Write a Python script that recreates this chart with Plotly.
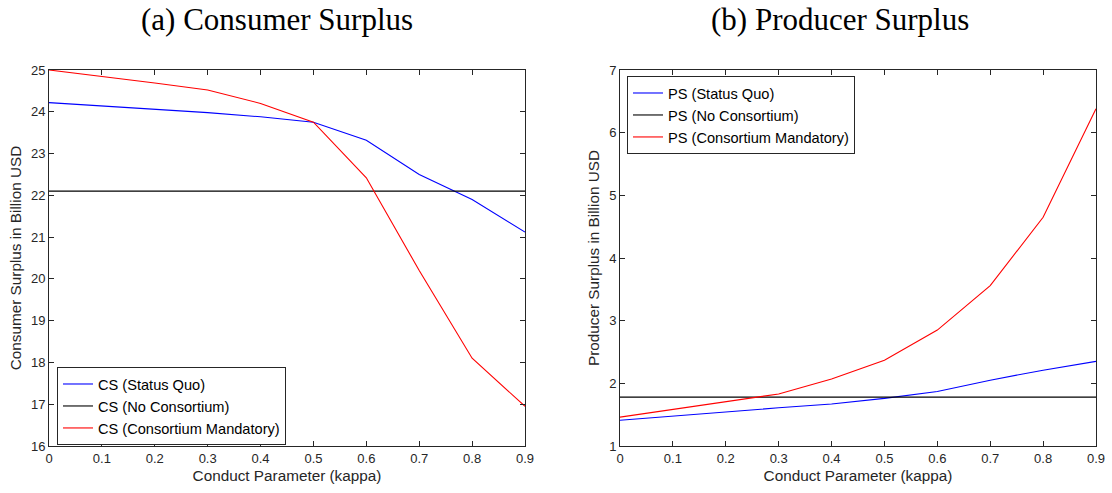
import plotly.graph_objects as go

kappa = [0, 0.1, 0.2, 0.3, 0.4, 0.5, 0.6, 0.7, 0.8, 0.9]

cs_status_quo = [24.22, 24.14, 24.06, 23.98, 23.88, 23.75, 23.32, 22.50, 21.90, 21.12]
cs_no_consortium = [22.10] * 10
cs_mandatory = [25.00, 24.85, 24.69, 24.52, 24.20, 23.75, 22.42, 20.20, 18.10, 16.95]

ps_status_quo = [1.41, 1.48, 1.55, 1.61, 1.67, 1.76, 1.87, 2.05, 2.21, 2.35]
ps_no_consortium = [1.78] * 10
ps_mandatory = [1.46, 1.58, 1.70, 1.83, 2.07, 2.37, 2.85, 3.56, 4.65, 6.38]

xticks = [0, 0.1, 0.2, 0.3, 0.4, 0.5, 0.6, 0.7, 0.8, 0.9]
cs_yticks = [16, 17, 18, 19, 20, 21, 22, 23, 24, 25]
ps_yticks = [1, 2, 3, 4, 5, 6, 7]

BLUE, BLACK, RED = "#0000ff", "#000000", "#ff0000"
AX = "#262626"
SANS = "Liberation Sans, Arial, sans-serif"
SERIF = "Liberation Serif, DejaVu Serif, serif"

W, H = 1112, 493

def px(v):
    return v / W

def py(v):
    return 1 - v / H

fig = go.Figure()

def add(x, y, name, color, xa, ya, leg):
    fig.add_trace(go.Scatter(x=x, y=y, name=name, mode="lines",
                             line=dict(color=color, width=1.1),
                             xaxis=xa, yaxis=ya, legend=leg))

add(kappa, cs_status_quo, "CS (Status Quo)", BLUE, "x", "y", "legend")
add(kappa, cs_no_consortium, "CS (No Consortium)", BLACK, "x", "y", "legend")
add(kappa, cs_mandatory, "CS (Consortium Mandatory)", RED, "x", "y", "legend")
add(kappa, ps_status_quo, "PS (Status Quo)", BLUE, "x2", "y2", "legend2")
add(kappa, ps_no_consortium, "PS (No Consortium)", BLACK, "x2", "y2", "legend2")
add(kappa, ps_mandatory, "PS (Consortium Mandatory)", RED, "x2", "y2", "legend2")

axis_common = dict(showline=True, linecolor=AX, linewidth=1, mirror="allticks",
                   ticks="inside", ticklen=5, tickcolor=AX, tickwidth=1,
                   showgrid=False, zeroline=False, automargin=False,
                   tickfont=dict(family=SANS, size=13, color=AX))

title_font = dict(family=SANS, size=15.3, color=AX)
legend_font = dict(family=SANS, size=14.6, color="#000000")
ydom = [py(446), py(70)]

fig.update_layout(
    width=W, height=H,
    margin=dict(l=0, r=0, t=0, b=0, autoexpand=False),
    paper_bgcolor="white", plot_bgcolor="white",
    xaxis=dict(domain=[px(49), px(525)], range=[0, 0.9], tickvals=xticks,
               ticktext=[f"{v:g}" for v in xticks], anchor="y",
               title=dict(text="Conduct Parameter (kappa)", standoff=5, font=title_font),
               **axis_common),
    yaxis=dict(domain=ydom, range=[16, 25], tickvals=cs_yticks, anchor="x",
               title=dict(text="Consumer Surplus in Billion USD", standoff=5, font=title_font),
               **axis_common),
    xaxis2=dict(domain=[px(620), px(1096)], range=[0, 0.9], tickvals=xticks,
                ticktext=[f"{v:g}" for v in xticks], anchor="y2",
                title=dict(text="Conduct Parameter (kappa)", standoff=5, font=title_font),
                **axis_common),
    yaxis2=dict(domain=ydom, range=[1, 7], tickvals=ps_yticks, anchor="x2",
                title=dict(text="Producer Surplus in Billion USD", standoff=5, font=title_font),
                **axis_common),
    legend=dict(x=px(57), y=py(367), xanchor="left", yanchor="top",
                bgcolor="white", bordercolor=AX, borderwidth=1,
                font=legend_font, tracegroupgap=0, itemwidth=30),
    legend2=dict(x=px(627), y=py(76), xanchor="left", yanchor="top",
                 bgcolor="white", bordercolor=AX, borderwidth=1,
                 font=legend_font, tracegroupgap=0, itemwidth=30),
    annotations=[
        dict(text="(a) Consumer Surplus", x=px(277), y=1,
             xref="paper", yref="paper", showarrow=False,
             xanchor="center", yanchor="top",
             font=dict(family=SERIF, size=31, color="#000000")),
        dict(text="(b) Producer Surplus", x=px(840), y=1,
             xref="paper", yref="paper", showarrow=False,
             xanchor="center", yanchor="top",
             font=dict(family=SERIF, size=31, color="#000000")),
    ],
)

fig.write_html("out.html", config={"displayModeBar": False},
               post_script="document.body.style.margin='0';document.body.style.padding='0';")
